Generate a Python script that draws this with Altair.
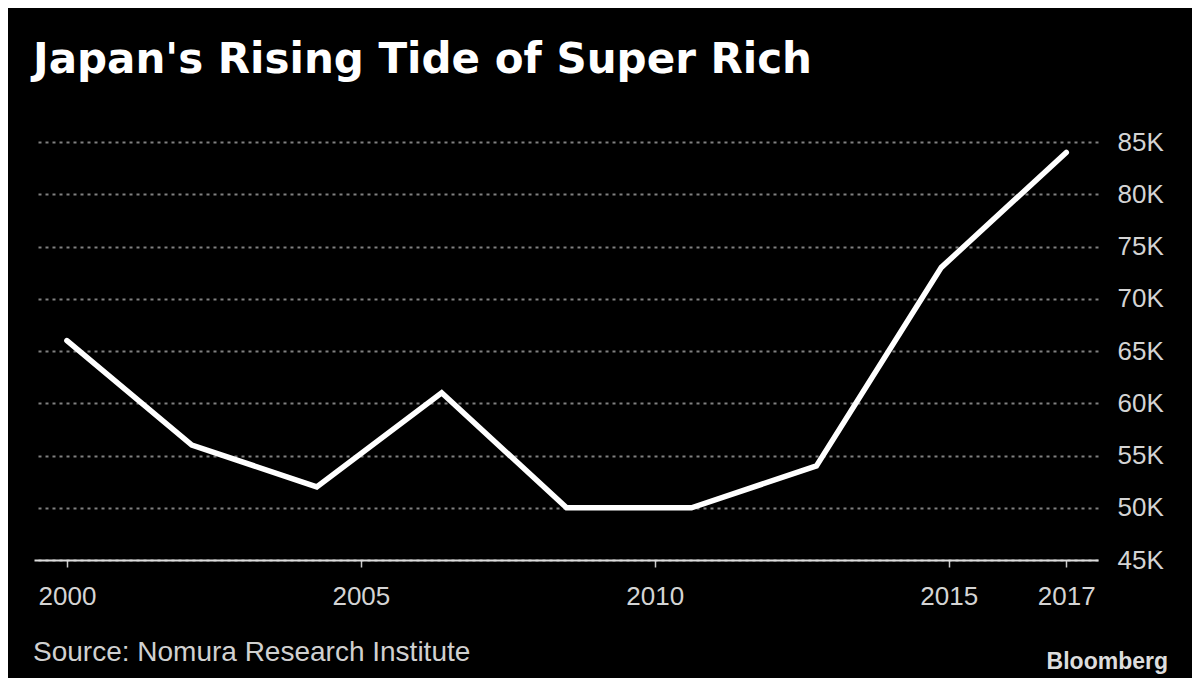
import altair as alt
import pandas as pd

# Data (thousands of people)
years = [2000, 2002.125, 2004.25, 2006.375, 2008.5, 2010.625, 2012.75, 2014.875, 2017]
rich_k = [66, 56, 52, 61, 50, 50, 54, 73, 84]

x_ticks = [2000, 2005, 2010, 2015, 2017]
y_ticks = [45, 50, 55, 60, 65, 70, 75, 80, 85]

title_text = "Japan's Rising Tide of Super Rich"
source_text = "Source: Nomura Research Institute"
brand_text = "Bloomberg"

df = pd.DataFrame({"year": years, "value": rich_k})

W, H = 1064, 418

x_enc = alt.X(
    "year:Q",
    scale=alt.Scale(domain=[1999.44, 2017.54], nice=False, zero=False),
    axis=alt.Axis(
        values=x_ticks, format="d", title=None, grid=False,
        labelFont="Liberation Sans", labelFontSize=26, labelColor="#d4d4d4",
        labelPadding=16, tickSize=7, tickWidth=1.5, tickColor="#cccccc",
        domainColor="#dddddd", domainWidth=2, labelFlush=False,
    ),
)
y_enc = alt.Y(
    "value:Q",
    scale=alt.Scale(domain=[45, 85], nice=False, zero=False),
    axis=alt.Axis(
        orient="right", values=y_ticks, labelExpr="datum.value + 'K'", title=None,
        grid=True, gridDash=[3, 4], gridColor="#808080", gridWidth=2,
        domain=False, ticks=False, labelPadding=19,
        labelFont="Liberation Sans", labelFontSize=26, labelColor="#d4d4d4",
        labelFlush=False,
    ),
)

line = alt.Chart(df).mark_line(
    color="white", strokeWidth=5.5, strokeCap="round", strokeJoin="miter"
).encode(x=x_enc, y=y_enc)

title = alt.Chart(pd.DataFrame({"t": [title_text]})).mark_text(
    font="DejaVu Sans", fontSize=42, fontWeight="bold", color="white",
    align="left", baseline="alphabetic",
).encode(x=alt.value(-1), y=alt.value(-69), text="t:N")

source = alt.Chart(pd.DataFrame({"t": [source_text]})).mark_text(
    font="Liberation Sans", fontSize=28, color="#d0d0d0",
    align="left", baseline="alphabetic",
).encode(x=alt.value(-1), y=alt.value(519), text="t:N")

brand = alt.Chart(pd.DataFrame({"t": [brand_text]})).mark_text(
    font="Liberation Sans", fontSize=23, fontWeight="bold", color="#dddddd",
    align="right", baseline="alphabetic",
).encode(x=alt.value(1134), y=alt.value(527), text="t:N")

chart = alt.layer(line, title, source, brand).properties(
    width=W, height=H,
    autosize=alt.AutoSizeParams(type="none"),
    padding={"left": 26, "top": 134, "right": 94, "bottom": 118},
    background="black",
).configure_view(stroke=None)

chart.save("out.html", embed_options={"renderer": "svg", "actions": False})
